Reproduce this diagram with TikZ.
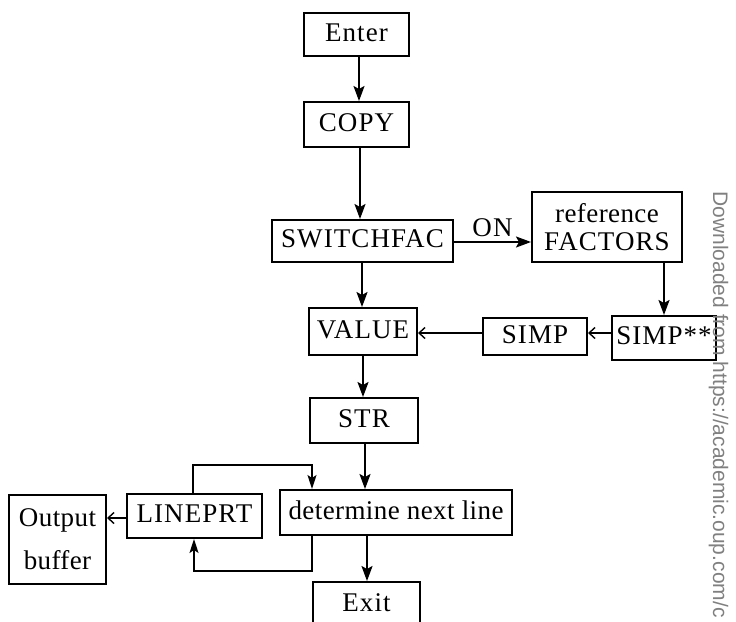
\documentclass[tikz,border=0pt]{standalone}
\usepackage{fontspec}
\setmainfont{Liberation Serif}[LetterSpace=4]
\newfontfamily\lowfont{Liberation Serif}[LetterSpace=1.5]
\newfontfamily\wmfont{Liberation Sans}
\usetikzlibrary{arrows.meta}

\begin{document}
\begin{tikzpicture}[x=1pt, y=-1pt,
    every node/.style={font=\fontsize{27}{31}\selectfont},
    box/.style={draw, line width=2pt, inner sep=0pt, text height=18pt, text depth=5pt},
    flow/.style={line width=2pt, -{Stealth[length=15pt, width=11pt, inset=3pt]}},
    back/.style={line width=1.2pt, -{Straight Barb[length=6pt, width=11pt, line width=1.4pt]}},
    loop/.style={line width=1.6pt, -{Stealth[length=14pt, width=9pt, inset=3pt]}}]
  \useasboundingbox (0,0) rectangle (736,621);

  \node[box, minimum width=105pt, minimum height=43pt] (enter) at (356.5,34.5) {Enter};
  \node[box, minimum width=105pt, minimum height=45pt] (copy) at (356.5,124.5) {COPY};
  \node[box, minimum width=181pt, minimum height=42pt] (switchfac) at (362.5,241) {SWITCHFAC};
  \node[box, minimum width=150pt, minimum height=70pt, align=center, text height=, text depth=] (factors) at (607,227) {{\lowfont reference}\\[-3pt]FACTORS};
  \node[box, minimum width=104pt, minimum height=44pt] (simpss) at (664,338) {SIMP**};
  \node[box, minimum width=104pt, minimum height=37pt] (simp) at (535,336.5) {SIMP};
  \node[box, minimum width=108pt, minimum height=47pt] (value) at (363,331.5) {VALUE};
  \node[box, minimum width=108pt, minimum height=45pt] (str) at (364,420.5) {STR};
  \node[box, minimum width=232pt, minimum height=45pt, font=\lowfont\fontsize{27}{31}\selectfont] (nextline) at (396,512.5) {determine next line};
  \node[box, minimum width=135pt, minimum height=44pt] (lineprt) at (194.5,516) {LINEPRT};
  \node[box, minimum width=97pt, minimum height=89pt, align=center, text height=, text depth=] (outbuf) at (57.5,539.5) {{\lowfont Output}\\[12pt]{\lowfont buffer}};
  \node[box, minimum width=107pt, minimum height=46pt] (exit) at (366.5,605) {Exit};

  \draw[flow] (enter.south -| 359,0) -- (copy.north -| 359,0);
  \draw[flow] (copy.south -| 360,0) -- (switchfac.north -| 360,0);
  \draw[flow] (switchfac.east |- 0,242) -- node[above=1pt] {ON} (factors.west |- 0,242);
  \draw[flow] (factors.south -| simpss.north) -- (simpss.north);
  \draw[back] (simpss.west |- 0,333) -- (simp.east |- 0,333);
  \draw[back] (simp.west |- 0,333) -- (value.east |- 0,333);
  \draw[flow] (switchfac.south -| 362,0) -- (value.north -| 362,0);
  \draw[flow] (value.south -| 363,0) -- (str.north -| 363,0);
  \draw[flow] (str.south -| 365,0) -- (nextline.north -| 365,0);
  \draw[flow] (nextline.south -| 367,0) -- (exit.north -| 367,0);
  \draw[back] (lineprt.west |- 0,518) -- (outbuf.east |- 0,518);

  % loop between the line printer and the line finder
  \draw[loop] (lineprt.north -| 193,0) |- (312,465) -- (nextline.north -| 312,0);
  \draw[loop] (nextline.south -| 312,0) |- (194,571) -- (lineprt.south -| 194,0);

  \node[rotate=-90, anchor=base west, text=black!50, font=\wmfont\fontsize{21}{24}\selectfont]
    (stamp) at (713,188) {Downloaded from https://academic.oup.com/c};
\end{tikzpicture}
\end{document}
